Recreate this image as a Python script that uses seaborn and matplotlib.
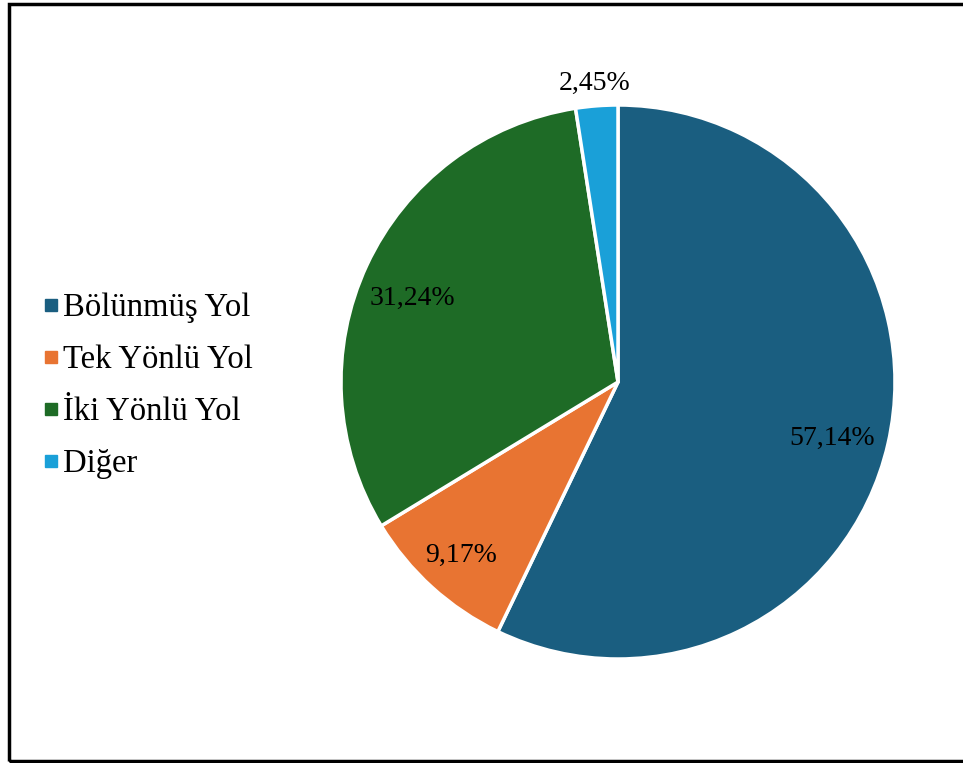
import matplotlib
matplotlib.use("Agg")
import matplotlib.pyplot as plt
from matplotlib.lines import Line2D
from matplotlib.patches import Rectangle
import numpy as np
import seaborn as sns

sns.set_theme(style="white")
plt.rcParams["font.family"] = ["Liberation Serif", "DejaVu Serif"]
plt.rcParams["text.color"] = "black"

# Road type shares (%)
categories = ["Bölünmüş Yol", "Tek Yönlü Yol", "İki Yönlü Yol", "Diğer"]
shares = [57.14, 9.17, 31.24, 2.45]
colors = ["#1a5e80", "#e87432", "#1e6b26", "#1aa0d8"]
label_dist = [0.80, 0.845, 0.80, 1.08]
label_turn = [-2.0, 0.0, 2.8, 0.0]  # small angular nudges for the value labels (deg)

W, H = 963, 763
fig = plt.figure(figsize=(W / 100, H / 100), dpi=100)
fig.patch.set_facecolor("white")

# Pie axes: centre (618, 382) px, radius 277 px
cx, cy, r = 618, 382, 277
ax = fig.add_axes([(cx - r) / W, (H - cy - r) / H, 2 * r / W, 2 * r / H])
wedges, _ = ax.pie(
    shares,
    colors=colors,
    startangle=90,
    counterclock=False,
    radius=1.0,
    wedgeprops=dict(edgecolor="white", linewidth=2.5),
)
ax.set_xlim(-1, 1)
ax.set_ylim(-1, 1)
ax.set_aspect("equal")
ax.axis("off")

for w, val, d, t in zip(wedges, shares, label_dist, label_turn):
    ang = np.deg2rad((w.theta1 + w.theta2) / 2 + t)
    txt = f"{val:.2f}%".replace(".", ",")
    ax.text(d * np.cos(ang), d * np.sin(ang), txt, ha="center", va="center",
            fontsize=20, color="black")

handles = [Line2D([0], [0], marker="s", linestyle="none", markersize=8,
                  markerfacecolor=c, markeredgecolor=c) for c in colors]
leg = fig.legend(handles, categories, loc="center left",
                 bbox_to_anchor=(0.029, (H - 386) / H), frameon=False,
                 fontsize=23.5, handlelength=0.4, handletextpad=0.16,
                 labelspacing=0.66, borderpad=0)
for t in leg.get_texts():
    t.set_color("black")

# Outer frame
fig.add_artist(Rectangle((8.5 / W, 2 / H), 1.2, (759 - 2) / H,
                         transform=fig.transFigure, fill=False,
                         edgecolor="black", linewidth=2.5))

fig.savefig("out.png", dpi=100, facecolor="white")
